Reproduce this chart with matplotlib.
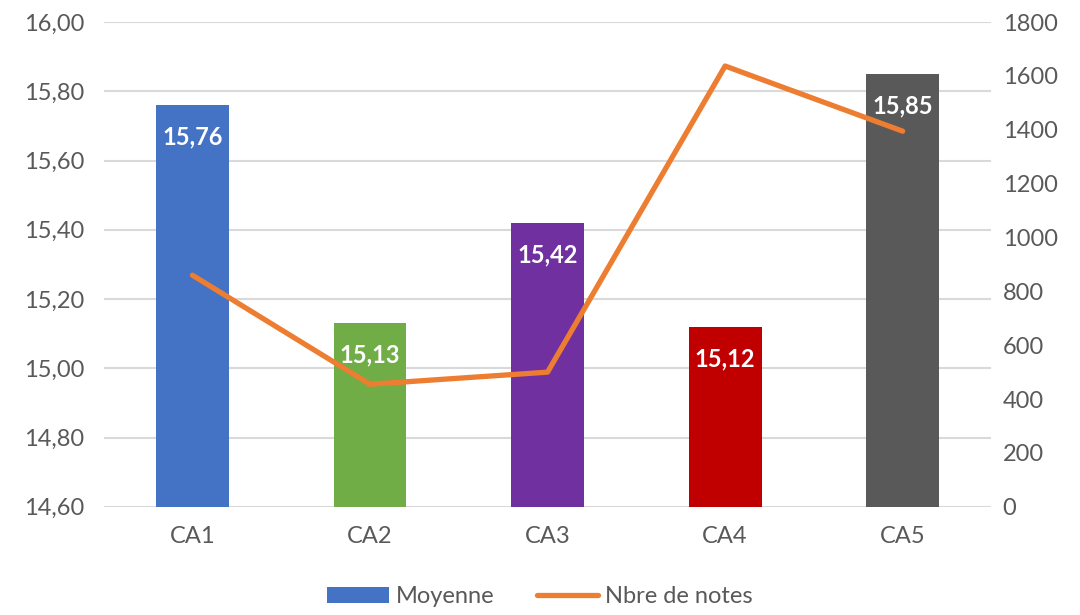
import matplotlib.pyplot as plt
import numpy as np

categories = ['CA1', 'CA2', 'CA3', 'CA4', 'CA5']
moyenne = [15.76, 15.13, 15.42, 15.12, 15.85]
nbre_notes = [860, 455, 500, 1637, 1395]
bar_colors = ['#4472C4', '#70AD47', '#7030A0', '#C00000', '#595959']
left_ticks = [14.6, 14.8, 15.0, 15.2, 15.4, 15.6, 15.8, 16.0]
right_ticks = [0, 200, 400, 600, 800, 1000, 1200, 1400, 1600, 1800]

plt.rcParams['font.family'] = ['Lato', 'DejaVu Sans']
txt = '#595959'

fig = plt.figure(figsize=(10.8, 6.15), dpi=100)
ax = fig.add_axes([0.096, 0.176, 0.822, 0.788])
x = np.arange(len(categories))

bars = ax.bar(x, np.array(moyenne) - 14.6, bottom=14.6, width=0.41,
              color=bar_colors, zorder=2, label='Moyenne')
ax.set_ylim(14.6, 16.0)
ax.set_xlim(-0.5, 4.5)
ax.set_yticks(left_ticks)
ax.set_yticklabels(['{:.2f}'.format(t).replace('.', ',') for t in left_ticks])
ax.set_xticks(x)
ax.set_xticklabels(categories)
ax.grid(axis='y', color='#D9D9D9', linewidth=1.5, zorder=0)
ax.set_axisbelow(True)
for s in ax.spines.values():
    s.set_visible(False)
ax.tick_params(length=0, labelsize=17, colors=txt)
ax.tick_params(axis='x', pad=14)
ax.tick_params(axis='y', pad=14)

for xi, v in zip(x, moyenne):
    ax.annotate('{:.2f}'.format(v).replace('.', ','), (xi, v),
                xytext=(0, -23), textcoords='offset points',
                ha='center', va='center', color='white',
                fontsize=17, fontweight='bold', zorder=4)

ax2 = ax.twinx()
line, = ax2.plot(x, nbre_notes, color='#ED7D31', linewidth=3.8,
                 solid_capstyle='round', zorder=3, label='Nbre de notes')
ax2.set_ylim(0, 1800)
ax2.set_yticks(right_ticks)
for s in ax2.spines.values():
    s.set_visible(False)
ax2.tick_params(length=0, labelsize=17, colors=txt, pad=8)

leg = fig.legend([bars, line], ['Moyenne', 'Nbre de notes'], loc='lower center',
                 bbox_to_anchor=(0.5, -0.022), ncol=2, frameon=False,
                 fontsize=17, handlelength=2.6, handletextpad=0.3,
                 columnspacing=1.8)
for t in leg.get_texts():
    t.set_color(txt)

fig.savefig('out.png', dpi=100)
